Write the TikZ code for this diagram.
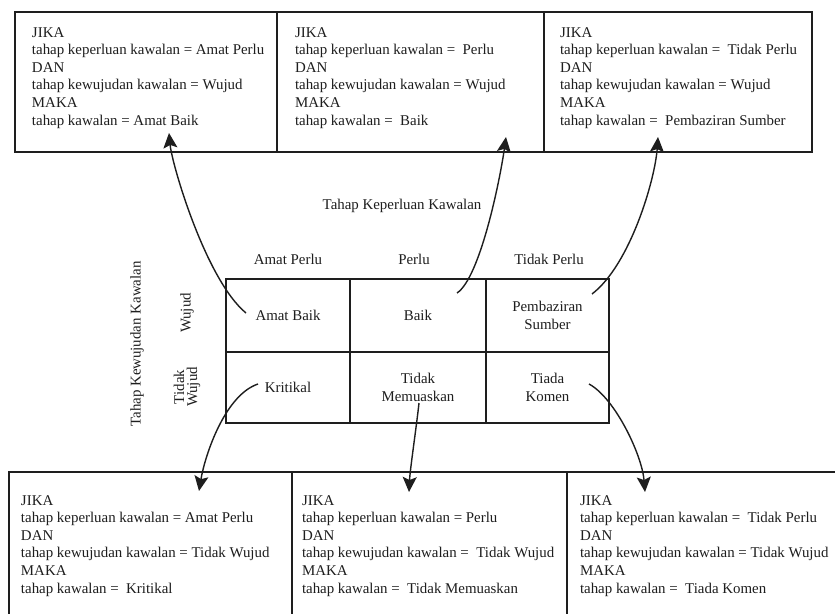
\documentclass[tikz,border=0pt]{standalone}
\usepackage{fontspec}
\setmainfont{Liberation Serif}
\usetikzlibrary{arrows.meta}
\definecolor{ink}{HTML}{1E1E1E}
\newcommand{\rulebox}[5]{% width, height, left pad, first-line strut, body
  \begin{minipage}[c][#2pt][t]{#1pt}\leftskip=#3pt\rule{0pt}{#4pt}#5\end{minipage}}
\begin{document}
\begin{tikzpicture}[x=1pt,y=-1pt,
  every node/.style={font=\fontsize{14.9}{17.6}\selectfont, text=ink},
  rbox/.style={draw=ink, line width=1.5pt, anchor=north west, inner sep=0pt, outer sep=0pt},
  cell/.style={draw=ink, line width=1.4pt, anchor=north west, inner sep=0pt, outer sep=0pt,
     align=center, minimum width=#1},
  row1/.style={minimum height=73pt},
  row2/.style={minimum height=71pt},
  lab/.style={inner sep=0pt, align=center},
  arr/.style={draw=ink, line width=1.4pt, -{Stealth[length=15pt,width=14pt,inset=3pt]}}]
\useasboundingbox (0,0) rectangle (835,613);
\fill[white] (0,0) rectangle (835,613);

% top rule boxes
\node[rbox] (t1) at (15,12) {\rulebox{262}{140}{17}{25}{JIKA\\
tahap keperluan kawalan = Amat Perlu\\
DAN\\
tahap kewujudan kawalan = Wujud\\
MAKA\\
tahap kawalan = Amat Baik}};
\node[rbox] (t2) at (277,12) {\rulebox{267}{140}{18}{25}{JIKA\\
tahap keperluan kawalan = \ Perlu\\
DAN\\
tahap kewujudan kawalan = Wujud\\
MAKA\\
tahap kawalan = \ Baik}};
\node[rbox] (t3) at (544,12) {\rulebox{268}{140}{16}{25}{JIKA\\
tahap keperluan kawalan = \ Tidak Perlu\\
DAN\\
tahap kewujudan kawalan = Wujud\\
MAKA\\
tahap kawalan = \ Pembaziran Sumber}};

% bottom rule boxes (cut by the picture's bottom and right edges)
\node[rbox] (b1) at (9,472) {\rulebox{283}{150}{12}{33}{JIKA\\
tahap keperluan kawalan = Amat Perlu\\
DAN\\
tahap kewujudan kawalan = Tidak Wujud\\
MAKA\\
tahap kawalan = \ Kritikal}};
\node[rbox] (b2) at (292,472) {\rulebox{275}{150}{10}{33}{JIKA\\
tahap keperluan kawalan = Perlu\\
DAN\\
tahap kewujudan kawalan = \ Tidak Wujud\\
MAKA\\
tahap kawalan = \ Tidak Memuaskan}};
\node[rbox] (b3) at (567,472) {\rulebox{285}{150}{13}{33}{JIKA\\
tahap keperluan kawalan = \ Tidak Perlu\\
DAN\\
tahap kewujudan kawalan = Tidak Wujud\\
MAKA\\
tahap kawalan = \ Tiada Komen}};

% matrix
\node[cell=124pt,row1] (c11) at (226,279) {Amat Baik};
\node[cell=136pt,row1] (c12) at (350,279) {Baik};
\node[cell=123pt,row1] (c13) at (486,279) {Pembaziran\\Sumber};
\node[cell=124pt,row2] (c21) at (226,352) {Kritikal};
\node[cell=136pt,row2] (c22) at (350,352) {Tidak\\Memuaskan};
\node[cell=123pt,row2] (c23) at (486,352) {Tiada\\Komen};

% headers
\node[lab] (hk) at (402,206) {Tahap Keperluan Kawalan};
\node[lab] (h1) at (288,259) {Amat Perlu};
\node[lab] (h2) at (414,259) {Perlu};
\node[lab] (h3) at (549,259) {Tidak Perlu};
\node[lab, rotate=90] (hw) at (137,344) {Tahap Kewujudan Kawalan};
\node[lab, rotate=90] (r1) at (187,313) {Wujud};
\node[lab, rotate=90, font=\fontsize{14.9}{13}\selectfont] (r2) at (187,387) {Tidak\\Wujud};

% connector end points
\coordinate (s1) at (246,313);
\coordinate (e1) at (169,133);
\coordinate (s2) at (457,293);
\coordinate (e2) at (506,137);
\coordinate (s3) at (592,294);
\coordinate (e3) at (658,137);
\coordinate (s4) at (258,384);
\coordinate (e4) at (199,491);
\coordinate (s5) at (419,403);
\coordinate (e5) at (409,492);
\coordinate (s6) at (589,384);
\coordinate (e6) at (645,492);

\draw[arr] (s1) .. controls (206,280) and (172,165) .. (e1);
\draw[arr] (s2) .. controls (480,278) and (500,180) .. (e2);
\draw[arr] (s3) .. controls (630,265) and (655,180) .. (e3);
\draw[arr] (s4) .. controls (225,395) and (205,455) .. (e4);
\draw[arr] (s5) .. controls (416,430) and (410,470) .. (e5);
\draw[arr] (s6) .. controls (615,398) and (642,455) .. (e6);
\end{tikzpicture}
\end{document}
